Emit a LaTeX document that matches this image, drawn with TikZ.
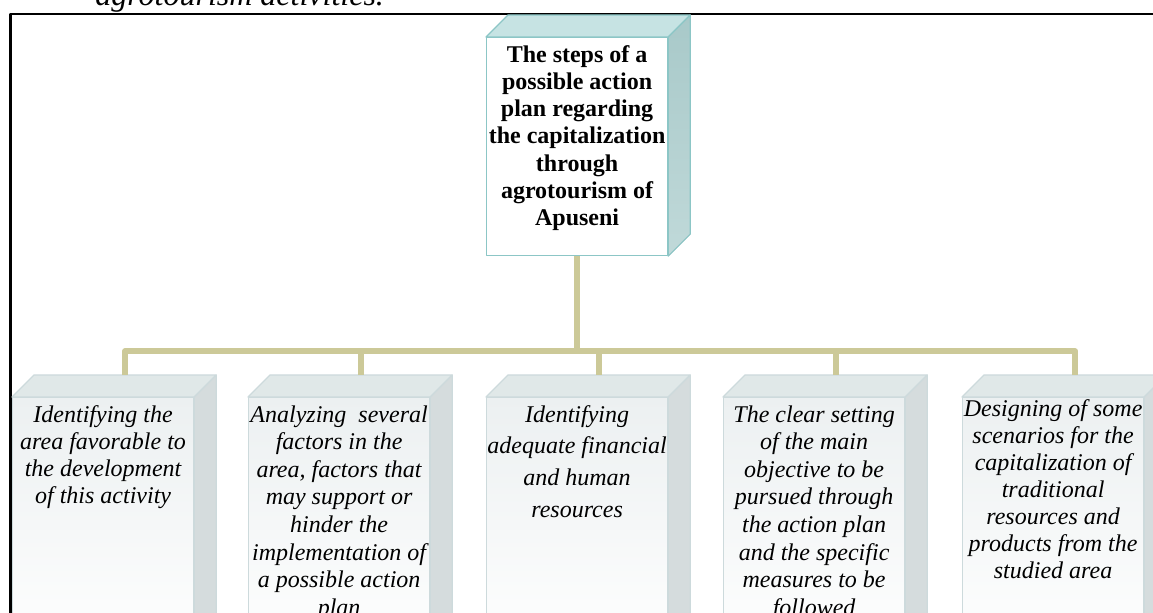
\documentclass[tikz,border=0pt]{standalone}
\usepackage{fontspec}
\setmainfont{Liberation Serif}
\usetikzlibrary{positioning,calc}
\definecolor{linkolive}{RGB}{204,201,152}
\definecolor{headedge}{RGB}{140,198,198}
\definecolor{headlid}{RGB}{198,227,227}
\definecolor{headside}{RGB}{168,201,201}
\definecolor{stepedge}{RGB}{205,218,220}
\definecolor{steplid}{RGB}{224,232,232}
\definecolor{stepside}{RGB}{213,220,221}
\definecolor{stepshade}{RGB}{236,240,241}
\definecolor{headsidelow}{RGB}{192,217,217}
\tikzset{
	headface/.style={draw=headedge, fill=white, line width=0.6pt, anchor=north west,
		minimum width=90.5pt, minimum height=109pt, inner sep=0pt},
	stepface/.style={draw=stepedge, top color=stepshade, bottom color=white,
		line width=0.6pt, anchor=north west, minimum width=90.5pt, minimum height=131.5pt, inner sep=0pt},
	headtext/.style={font=\fontsize{12}{13.6}\selectfont\bfseries, align=center, inner sep=0pt},
	link/.style={draw=linkolive, line width=3pt},
}
\begin{document}
\begin{tikzpicture}[
	x=0.5pt,
	y=-0.5pt,
	line join=round,
	>=latex,
	]
\useasboundingbox (0,0) rectangle (1153,613);
\clip (0,0) rectangle (1153,613);
\node[anchor=base west, inner sep=0pt, font=\fontsize{16}{19}\selectfont\itshape] (caption) at (95,6) {agrotourism activities.};
\draw[line width=1.3pt] (10.5,14) rectangle (1190,700);
% head box
\node[headface] (head) at (486,37) {};
\filldraw[draw=headedge, fill=headlid, line width=0.6pt] (head.north west) -- ++(22,-22) -- ($(head.north east)+(22,-22)$) -- (head.north east) -- cycle;
\filldraw[draw=headedge, top color=headside, bottom color=headsidelow, line width=0.6pt]
	(head.north east) -- ++(22,-22) -- ($(head.south east)+(22,-22)$) -- (head.south east) -- cycle;
\node[headtext, below=4pt of head.north] (headlbl) {The steps of a\\possible action\\plan regarding\\the capitalization\\through\\agrotourism of\\Apuseni};
% step boxes
\foreach \x/\boxname/\lskip/\gap/\txt in {
	12/s1/13.6/4/{Identifying the\\area favorable to\\the development\\of this activity},
	248/s2/13.8/4/{Analyzing~ several\\factors in the\\area, factors that\\may support or\\hinder the\\implementation of\\a possible action\\plan},
	486/s3/15.8/4/{Identifying\\adequate financial\\and human\\resources},
	723/s4/13.8/4/{The clear setting\\of the main\\objective to be\\pursued through\\the action plan\\and the specific\\measures to be\\followed},
	962/s5/13.5/1/{Designing of some\\scenarios for the\\capitalization of\\traditional\\resources and\\products from the\\studied area}}
	{
	\node[stepface] (\boxname) at (\x,397) {};
	\filldraw[draw=stepedge, fill=steplid, line width=0.6pt] (\boxname.north west) -- ++(22,-22) -- ($(\boxname.north east)+(22,-22)$) -- (\boxname.north east) -- cycle;
	\filldraw[draw=stepedge, fill=stepside, line width=0.6pt]
		(\boxname.north east) -- ++(22,-22) -- ($(\boxname.south east)+(22,-22)$) -- (\boxname.south east) -- cycle;
	\coordinate (\boxname-top) at ($(\boxname.north)+(22,-22)$);
	\node[font=\fontsize{12}{\lskip}\selectfont\itshape, align=center, inner sep=0pt, below=\gap pt of \boxname.north] (\boxname-lbl) {\txt};
	}
% connectors
\coordinate (hub) at ($(head.south)+(0,95)$);
\draw[link] (head.south) -- (hub);
\draw[link] (s1-top) -- (s1-top |- hub) -- (s5-top |- hub) -- (s5-top);
\foreach \n in {s2, s3, s4}
	\draw[link] (\n-top) -- (\n-top |- hub);
\end{tikzpicture}
\end{document}
